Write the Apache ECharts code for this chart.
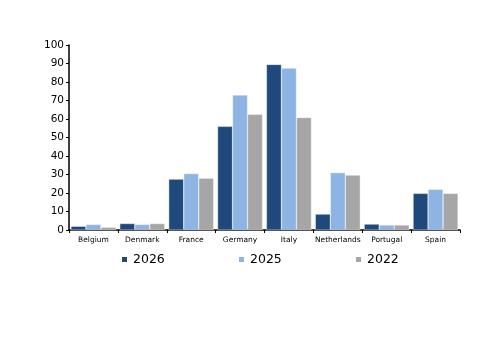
<!DOCTYPE html>
<html>
<head>
<meta charset="utf-8">
<script src="https://cdn.jsdelivr.net/npm/echarts@6/dist/echarts.min.js"></script>
<style>
  html, body { margin: 0; padding: 0; background: #fff; }
  #chart-container { width: 500px; height: 353px; }
</style>
</head>
<body>
<div id="chart-container"></div>
<script>
var countries = ['Belgium', 'Denmark', 'France', 'Germany', 'Italy', 'Netherlands', 'Portugal', 'Spain'];
var v2026 = [2, 3.5, 27.5, 56, 89.5, 8.6, 3.2, 19.8];
var v2025 = [3, 3, 30.5, 73, 87.5, 31, 2.7, 22];
var v2022 = [1.5, 3.5, 28, 62.5, 60.8, 29.7, 2.7, 19.8];
var yTicks = [0, 10, 20, 30, 40, 50, 60, 70, 80, 90, 100];

var dom = document.getElementById('chart-container');
var myChart = echarts.init(dom, null, { renderer: 'canvas' });

var font = 'DejaVu Sans';
var legendText = { fontFamily: font, fontSize: 12.5, color: '#000' };

var option = {
    animation: false,
    grid: { left: 69, right: 40, top: 45, bottom: 123 },
    legend: [
        { data: ['2026'], icon: 'rect', left: 115, top: 248, itemWidth: 7, itemHeight: 7, textStyle: legendText },
        { data: ['2025'], icon: 'rect', left: 232, top: 248, itemWidth: 7, itemHeight: 7, textStyle: legendText },
        { data: ['2022'], icon: 'rect', left: 349, top: 248, itemWidth: 7, itemHeight: 7, textStyle: legendText }
    ],
    xAxis: {
        type: 'category',
        data: countries,
        axisLine: { lineStyle: { color: '#000', width: 1.5 } },
        axisTick: { show: true, length: 3, lineStyle: { color: '#000' } },
        axisLabel: { interval: 0, fontFamily: font, fontSize: 7.5, color: '#000', margin: 6 }
    },
    yAxis: {
        type: 'value',
        min: yTicks[0],
        max: yTicks[yTicks.length - 1],
        interval: 10,
        splitLine: { show: false },
        axisLine: { show: true, lineStyle: { color: '#000', width: 1.5 } },
        axisTick: { show: true, length: 3, lineStyle: { color: '#000' } },
        axisLabel: { fontFamily: font, fontSize: 10.5, color: '#000', margin: 5 }
    },
    series: [
        { name: '2026', type: 'bar', data: v2026, barGap: '0%', barCategoryGap: '8%',
          itemStyle: { color: '#1F497D', borderColor: '#fff', borderWidth: 0.4 } },
        { name: '2025', type: 'bar', data: v2025,
          itemStyle: { color: '#8DB4E2', borderColor: '#fff', borderWidth: 0.4 } },
        { name: '2022', type: 'bar', data: v2022,
          itemStyle: { color: '#A6A6A6', borderColor: '#fff', borderWidth: 0.4 } }
    ]
};

myChart.setOption(option);
window.addEventListener('resize', myChart.resize);
</script>
</body>
</html>
